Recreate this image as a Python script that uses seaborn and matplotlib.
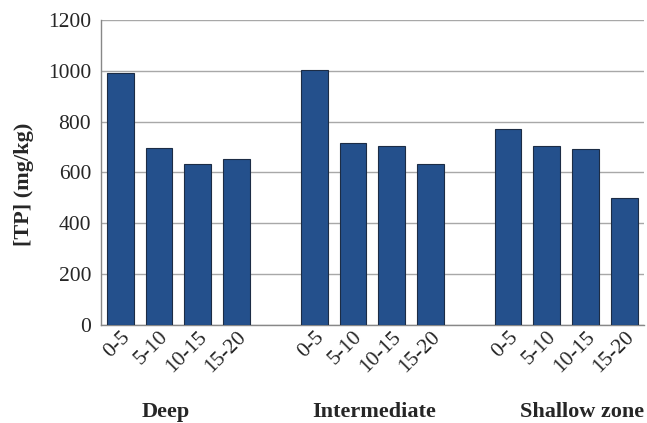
import numpy as np
import pandas as pd
import matplotlib
matplotlib.use("Agg")
import matplotlib.pyplot as plt
import matplotlib.transforms as mtransforms
from matplotlib.ticker import FixedLocator
import seaborn as sns

# Soil depth intervals (cm) and total phosphorus per zone
depths = ["0-5", "5-10", "10-15", "15-20"]
zones = ["Deep", "Intermediate", "Shallow zone"]
deep_tp = [991, 695, 633, 653]
intermediate_tp = [1004, 715, 703, 634]
shallow_tp = [772, 703, 692, 498]
y_ticks = [0, 200, 400, 600, 800, 1000, 1200]

rows = []
for zi, (zone, vals) in enumerate(zip(zones, [deep_tp, intermediate_tp, shallow_tp])):
    for di, (d, v) in enumerate(zip(depths, vals)):
        rows.append({"zone": zone, "depth": d, "pos": zi * 5 + di, "tp": v})
df = pd.DataFrame(rows)

sns.set_theme(style="white")
plt.rcParams["font.family"] = ["Liberation Serif", "DejaVu Serif"]

fig = plt.figure(figsize=(6.47, 4.23), dpi=100)
ax = fig.add_axes([0.156, 0.232, 0.839, 0.721])

sns.barplot(data=df, x="pos", y="tp", native_scale=True, width=0.69,
            color="#24508C", saturation=1, edgecolor="#1c2c45", linewidth=0.8,
            errorbar=None, ax=ax, zorder=3)

ax.set_xlim(-0.5, 13.5)
ax.set_ylim(0, 1200)
ax.set_yticks(y_ticks)
ax.set_yticklabels([str(t) for t in y_ticks], fontsize=15.5)
ax.yaxis.grid(True, color="#a8a8a8", linewidth=1.0, zorder=0)
ax.set_axisbelow(True)

# Depth labels under each bar, tick marks at slot boundaries
ax.set_xticks(df["pos"].tolist())
ax.set_xticklabels(df["depth"].tolist(), rotation=45, ha="right",
                   rotation_mode="anchor", fontsize=15.5)
offset = mtransforms.ScaledTranslation(5 / 72, -8 / 72, fig.dpi_scale_trans)
for lbl in ax.get_xticklabels():
    lbl.set_transform(lbl.get_transform() + offset)
ax.xaxis.set_minor_locator(FixedLocator(np.arange(-0.5, 14.0, 1.0)))
ax.tick_params(axis="x", which="major", length=0, pad=2)
ax.tick_params(axis="x", which="minor", length=5, width=1, color="#888888", direction="out")
ax.tick_params(axis="y", length=5, width=1, color="#888888", direction="out", pad=2)

for side in ["top", "right"]:
    ax.spines[side].set_visible(False)
for side in ["left", "bottom"]:
    ax.spines[side].set_color("#888888")
    ax.spines[side].set_linewidth(1.0)

ax.set_xlabel("")
ax.set_ylabel("[TP] (mg/kg)", fontsize=16, fontweight="bold")
ax.yaxis.set_label_coords(-0.124, 0.462)

# Zone names below the depth labels
for zone, xpos in zip(zones, [1.17, 6.54, 11.9]):
    ax.text(xpos, -0.285, zone, transform=ax.get_xaxis_transform(),
            ha="center", va="center", fontsize=16, fontweight="bold")

fig.savefig("out.png", dpi=100)
